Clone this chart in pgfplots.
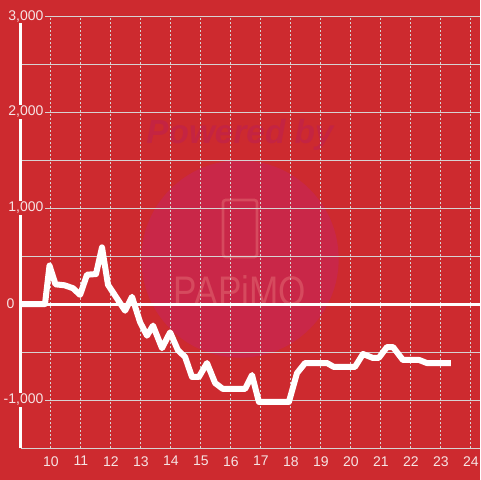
\documentclass[border=0pt]{standalone}
\usepackage{fontspec}
\setmainfont{Liberation Sans}
\usepackage{pgfplots}
\pgfplotsset{compat=1.18}
\definecolor{bgred}{RGB}{205,42,47}
\definecolor{circ}{RGB}{201,39,72}
\definecolor{wm}{RGB}{196,36,66}
\definecolor{wm2}{RGB}{214,74,94}
\definecolor{gridc}{RGB}{215,210,210}
\definecolor{lab}{RGB}{246,228,228}
\pgfplotsset{base/.style={
  at={(15.75pt,24pt)}, anchor=south west,
  scale only axis, width=344.25pt, height=324pt,
  xmin=9, xmax=24.3, ymin=-1500, ymax=3000,
  axis x line*=bottom, axis y line*=left,
  x axis line style={draw=gridc, line width=0.75pt, -},
  y axis line style={draw=white, line width=2.25pt, -},
  xtick={10,11,12,13,14,15,16,17,18,19,20,21,22,23,24},
  minor ytick={-500,500,1500,2500},
  major tick length=0pt, minor tick length=0pt,
  /pgf/number format/assume math mode=true,
  tick label style={font=\fontsize{10.5}{12}\selectfont, text=lab},
}}
\begin{document}
\begin{tikzpicture}[x=1pt,y=1pt]
\fill[bgred] (0,0) rectangle (360,360);
\useasboundingbox (0,0) rectangle (360,360);
% watermark
\fill[circ] (180,165.75) circle (74);
\node[font=\bfseries\itshape\fontsize{25}{28}\selectfont, text=wm, anchor=base] at (180,252.75) {Powered by};
\draw[wm2, line width=2pt, rounded corners=2pt] (167.25,167.25) rectangle (192.75,210);
\node[font=\fontsize{31}{34}\selectfont, text=wm2, anchor=base, xscale=0.85] at (180,131.25) {PAPiMO};
% grid and data
\begin{axis}[base,
  ytick={-1000,0,1000,2000,3000},
  xticklabels={}, yticklabels={},
  xmajorgrids, ymajorgrids, yminorgrids,
  major x grid style={gridc, line width=0.75pt, dash pattern=on 1.5pt off 1.5pt},
  major y grid style={gridc, line width=0.75pt},
  minor y grid style={gridc, line width=0.75pt},
]
\addplot[white, line width=2.25pt, forget plot] coordinates {(9,0) (24.3,0)};
\addplot[white, line width=4.5pt, line join=round] coordinates {
(9.0,0) (9.8,0) (9.95,400) (10.15,205) (10.45,195) (10.73,165) (10.97,95)
(11.2,305) (11.5,312) (11.7,590) (11.9,200) (12.47,-70) (12.7,75)
(12.97,-190) (13.2,-330) (13.4,-225) (13.7,-460) (13.97,-295) (14.23,-480)
(14.47,-552) (14.7,-760) (14.93,-760) (15.2,-615) (15.47,-823) (15.73,-885)
(16.47,-885) (16.7,-740) (16.93,-1020) (17.93,-1020) (18.2,-720) (18.47,-615)
(19.2,-615) (19.43,-656) (20.13,-656) (20.4,-521) (20.73,-562) (20.93,-560)
(21.2,-448) (21.4,-448) (21.73,-583) (22.27,-583) (22.53,-615) (23.33,-615)
};
\end{axis}
% tick labels on top
\begin{axis}[base,
  ytick={-1000,1000,2000,3000},
  yticklabels={{-1,000},{1,000},{2,000},{3,000}},
  extra y ticks={0},
  extra y tick labels={0},
  extra y tick style={yticklabel style={xshift=-21.75pt}},
  yticklabel style={anchor=east, xshift=18pt, fill=bgred, inner sep=1pt},
  xticklabel style={anchor=north, yshift=-5pt, inner sep=1pt},
]
\end{axis}
\end{tikzpicture}
\end{document}
